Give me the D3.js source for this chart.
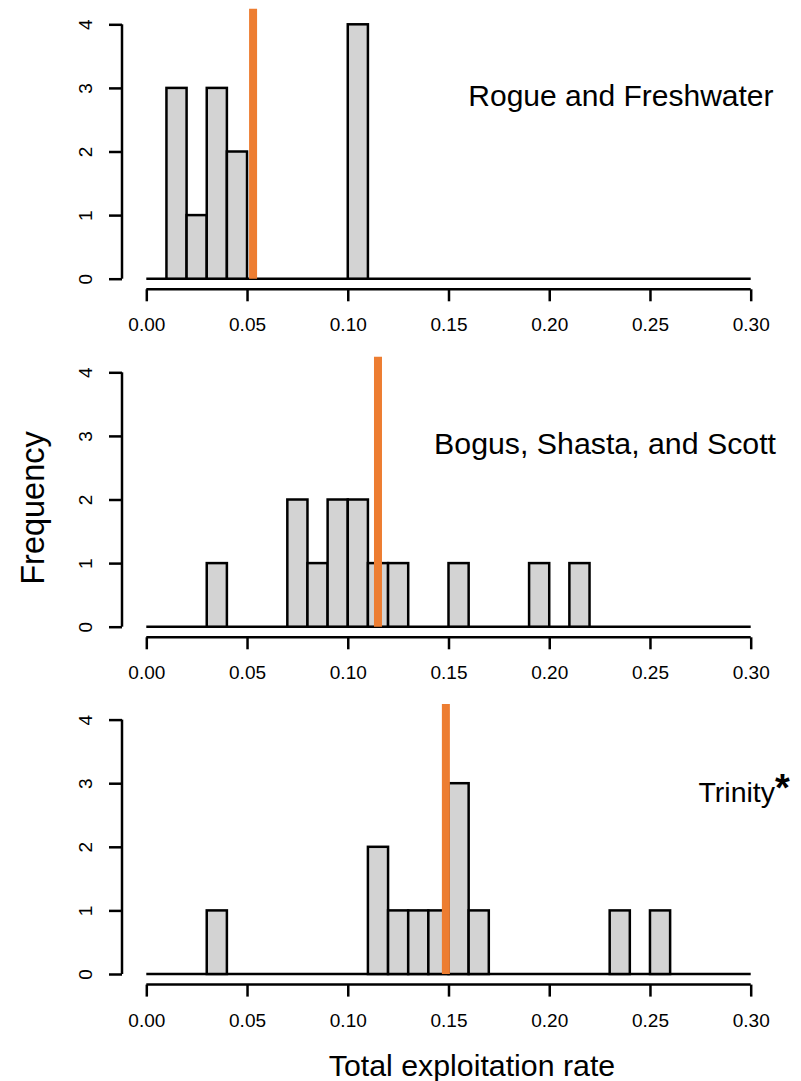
<!DOCTYPE html>
<html><head><meta charset="utf-8">
<script src="https://cdn.jsdelivr.net/npm/d3@7"></script>
<style>body{margin:0;background:#fff}text{font-family:"Liberation Sans",Arial,sans-serif;fill:#000}</style>
</head><body><svg id="c" width="801" height="1081"></svg>
<script>
const binEdges = d3.range(0, 0.3001, 0.01).map(v => +v.toFixed(2));
const panelNames = ["Rogue and Freshwater", "Bogus, Shasta, and Scott", "Trinity"];
const countsRogue  = [0,3,1,3,2,0,0,0,0,0,4,0,0,0,0,0,0,0,0,0,0,0,0,0,0,0,0,0,0,0];
const countsBogus  = [0,0,0,1,0,0,0,2,1,2,2,1,1,0,0,1,0,0,0,1,0,1,0,0,0,0,0,0,0,0];
const countsTrinity= [0,0,0,1,0,0,0,0,0,0,0,2,1,1,1,3,1,0,0,0,0,0,0,1,0,1,0,0,0,0];
const meanRates = [0.053, 0.115, 0.1487];
const xTicks = [0, 0.05, 0.10, 0.15, 0.20, 0.25, 0.30];
const yTicks = [0, 1, 2, 3, 4];
const allCounts = [countsRogue, countsBogus, countsTrinity];

const svg = d3.select("#c");
const x = d3.scaleLinear().domain([0, 0.30]).range([146.3, 750.7]);
const base = [278.7, 626.7, 974];
const unit = 63.6;
const labelRight = [773.5, 776, 775];
const labelSize = [30, 30.3, 28.5];

allCounts.forEach((counts, p) => {
  const y0 = base[p];
  const y = d3.scaleLinear().domain([0, 4]).range([y0, y0 - 4 * unit]);
  const g = svg.append("g");
  g.append("line").attr("x1", x(0)).attr("x2", x(0.30)).attr("y1", y(0)).attr("y2", y(0))
    .attr("stroke", "#000").attr("stroke-width", 2.5);
  const bins = counts.map((c, i) => ({x0: binEdges[i], x1: binEdges[i + 1], c})).filter(d => d.c > 0);
  g.selectAll("rect").data(bins).join("rect")
    .attr("x", d => x(d.x0)).attr("width", d => x(d.x1) - x(d.x0))
    .attr("y", d => y(d.c)).attr("height", d => y(0) - y(d.c))
    .attr("fill", "#D3D3D3").attr("stroke", "#000").attr("stroke-width", 2.5);
  g.append("line").attr("x1", x(meanRates[p])).attr("x2", x(meanRates[p]))
    .attr("y1", y0 - 270).attr("y2", y(0))
    .attr("stroke", "#ED7D31").attr("stroke-width", 8);
  const ya = d3.axisLeft(y).tickValues(yTicks).tickSize(13).tickPadding(0).tickFormat(d3.format("d"));
  const yg = g.append("g").attr("transform", "translate(122,0)").call(ya);
  yg.select(".domain").attr("d", `M0,${y(0)}V${y(4)}`).attr("stroke-width", 2.5);
  yg.selectAll(".tick line").attr("stroke-width", 2.5);
  yg.selectAll(".tick text").attr("font-size", 19).attr("text-anchor", "middle")
    .attr("x", 0).attr("dy", 0)
    .attr("transform", "translate(-37,0) rotate(-90)").attr("dominant-baseline", "central");
  const xa = d3.axisBottom(x).tickValues(xTicks).tickSize(12).tickPadding(0).tickFormat(d3.format(".2f"));
  const xg = g.append("g").attr("transform", `translate(0,${y0 + 10.6})`).call(xa);
  xg.select(".domain").attr("d", `M${x(0)},0H${x(0.30)}`).attr("stroke-width", 2.5);
  xg.selectAll(".tick line").attr("stroke-width", 2.5);
  xg.selectAll(".tick text").attr("font-size", 19).attr("dy", 0).attr("y", 42);
  g.append("text").attr("x", labelRight[p]).attr("y", y0 - 172.5)
    .attr("text-anchor", "end").attr("font-size", labelSize[p]).text(panelNames[p]);
  if (p === 2) {
    g.append("text").attr("x", 775).attr("y", y0 - 173).attr("font-size", 38).attr("font-weight", "bold").text("*");
  }
});

svg.append("text").attr("x", 472).attr("y", 1076).attr("text-anchor", "middle")
  .attr("font-size", 30.3).text("Total exploitation rate");
svg.append("text").attr("transform", "translate(44,508) rotate(-90)").attr("text-anchor", "middle")
  .attr("font-size", 32.5).text("Frequency");
</script></body></html>
